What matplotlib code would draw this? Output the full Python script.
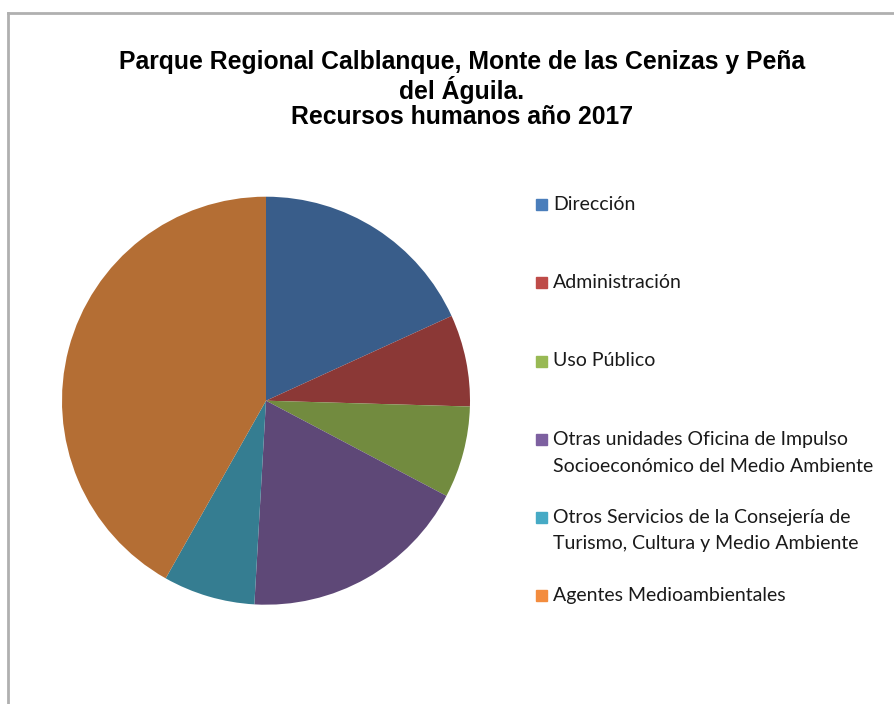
import matplotlib
matplotlib.use("Agg")
import matplotlib.pyplot as plt
from matplotlib.patches import Rectangle
from matplotlib.lines import Line2D

labels = [
    "Dirección",
    "Administración",
    "Uso Público",
    "Otras unidades Oficina de Impulso\nSocioeconómico del Medio Ambiente",
    "Otros Servicios de la Consejería de\nTurismo, Cultura y Medio Ambiente",
    "Agentes Medioambientales",
]
values = [5, 2, 2, 5, 2, 11.5]
slice_colors = ["#395D8A", "#8B3836", "#728B3F", "#5E4877", "#357D91", "#B46E34"]
legend_colors = ["#4A7EBB", "#BE4B48", "#98B954", "#7D60A0", "#46AAC5", "#F38C3E"]
title_lines = ["Parque Regional Calblanque, Monte de las Cenizas y Peña",
               "del Águila.", "Recursos humanos año 2017"]

W, H = 894, 704
fig = plt.figure(figsize=(W / 100, H / 100), dpi=100)

# chart frame (only top and left edges are visible)
fig.add_artist(Line2D([8 / W, 8 / W], [0, 1 - 13 / H], color="#B0B0B0", lw=2))
fig.add_artist(Line2D([8 / W, 1], [1 - 13 / H, 1 - 13 / H], color="#B0B0B0", lw=2))

for i, line in enumerate(title_lines):
    fig.text(462 / W, 1 - (62 + 27.5 * i) / H, line, ha="center", va="center",
             fontsize=17.8, fontweight="bold", family="Liberation Sans")

cx, cy, r = 266, 400.7, 204
ax = fig.add_axes([(cx - r) / W, 1 - (cy + r) / H, 2 * r / W, 2 * r / H])
ax.pie(values, colors=slice_colors, startangle=90, counterclock=False,
       radius=1, wedgeprops=dict(linewidth=0))
ax.set_xlim(-1, 1)
ax.set_ylim(-1, 1)
ax.set_aspect("equal")
ax.axis("off")

# legend drawn by hand (entries are unevenly spaced)
ys = [204, 282, 361, 439, 517, 595]
for lab, col, y in zip(labels, legend_colors, ys):
    fig.add_artist(Rectangle((536 / W, 1 - (y + 5.5) / H), 11 / W, 11 / H,
                             color=col, transform=fig.transFigure))
    for j, part in enumerate(lab.split("\n")):
        fig.text(553 / W, 1 - (y + 27 * j) / H, part, ha="left", va="center",
                 fontsize=14, family="Lato", color="#1A1A1A")

fig.savefig("out.png", dpi=100)
